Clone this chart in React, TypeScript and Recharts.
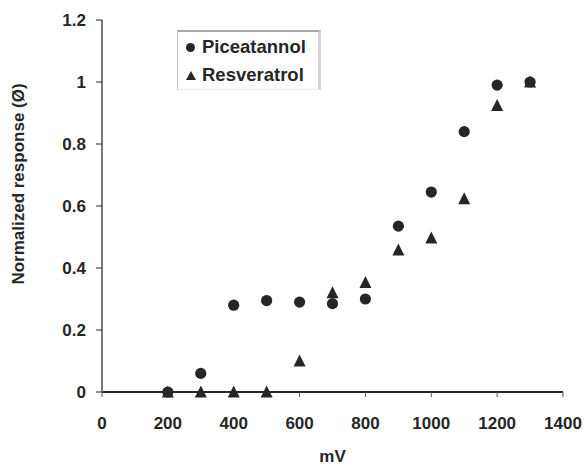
import React from "react";
import {
  ScatterChart,
  Scatter,
  XAxis,
  YAxis,
  Legend,
  ReferenceLine,
} from "recharts";

// voltages (mV) and normalized responses
const voltages = [200, 300, 400, 500, 600, 700, 800, 900, 1000, 1100, 1200, 1300];
const piceatannol = [0, 0.06, 0.28, 0.295, 0.29, 0.285, 0.3, 0.535, 0.645, 0.84, 0.99, 1.0];
const resveratrol = [0, 0, 0, 0, 0.1, 0.32, 0.353, 0.458, 0.497, 0.623, 0.924, 1.0];

const xTicks = [0, 200, 400, 600, 800, 1000, 1200, 1400];
const yTicks = [0, 0.2, 0.4, 0.6, 0.8, 1, 1.2];

const piceData = voltages.map((mv, i) => ({ mv, value: piceatannol[i] }));
const resvData = voltages.map((mv, i) => ({ mv, value: resveratrol[i] }));

const FONT = '"Liberation Sans", Arial, sans-serif';
const INK = "#262626";

const Dot = (props: any) => {
  const { cx, cy } = props;
  if (cx == null || cy == null) return null;
  return <circle cx={cx} cy={cy} r={5.6} fill={INK} />;
};

const Tri = (props: any) => {
  const { cx, cy } = props;
  if (cx == null || cy == null) return null;
  const h = 11;
  const w = 12;
  return (
    <polygon
      points={`${cx},${cy - h / 2 - 1} ${cx - w / 2},${cy + h / 2} ${cx + w / 2},${cy + h / 2}`}
      fill={INK}
    />
  );
};

const tickStyle = { fill: INK, fontSize: 17, fontWeight: 700, fontFamily: FONT };

const LegendBox = () => (
  <div
    style={{
      boxSizing: "border-box",
      width: 144,
      height: 60,
      borderTop: "2px solid #a8a8a8",
      borderLeft: "1px solid #c8c8c8",
      borderRight: "3px solid #d4d4d4",
      borderBottom: "1px solid #ececec",
      padding: "1px 0 0 8px",
      fontFamily: FONT,
      fontWeight: 700,
      fontSize: 18.5,
      color: INK,
      lineHeight: "28px",
      background: "#fff",
      textAlign: "left",
      whiteSpace: "nowrap",
    }}
  >
    <div>
      <span style={{ display: "inline-block", width: 9, height: 9, borderRadius: 5, background: INK, marginRight: 7, verticalAlign: 1 }} />
      Piceatannol
    </div>
    <div>
      <span
        style={{
          display: "inline-block",
          width: 0,
          height: 0,
          borderLeft: "5px solid transparent",
          borderRight: "5px solid transparent",
          borderBottom: "9px solid " + INK,
          marginRight: 6,
          verticalAlign: 1,
        }}
      />
      Resveratrol
    </div>
  </div>
);

const YLabel = (props: any) => {
  const vb = props.viewBox;
  const x = vb.x + 18;
  const y = vb.y + vb.height / 2 - 22;
  return (
    <text
      x={x}
      y={y}
      transform={`rotate(-90 ${x} ${y})`}
      textAnchor="middle"
      dominantBaseline="central"
      style={tickStyle}
    >
      Normalized response (Ø)
    </text>
  );
};

export default function App() {
  return (
    <div style={{ position: "absolute", left: 0, top: 0, background: "#fff" }}>
      <ScatterChart
        width={584}
        height={467}
        margin={{ top: 20, right: 21, bottom: 0, left: 0 }}
      >
        <XAxis
          type="number"
          dataKey="mv"
          domain={[0, 1400]}
          ticks={xTicks}
          height={75}
          tick={tickStyle}
          tickSize={5}
          tickMargin={20}
          axisLine={{ stroke: INK, strokeWidth: 2 }}
          tickLine={{ stroke: "#555" }}
          label={{ value: "mV", position: "insideBottom", offset: 5, style: tickStyle }}
        />
        <YAxis
          type="number"
          dataKey="value"
          domain={[0, 1.2]}
          ticks={yTicks}
          width={102}
          tick={tickStyle}
          tickSize={6}
          tickMargin={10}
          axisLine={{ stroke: "#7a7a7a", strokeWidth: 2 }}
          tickLine={{ stroke: INK }}
          label={<YLabel />}
        />
        <ReferenceLine
          segment={[
            { x: 0, y: 0 },
            { x: 0, y: 0.08 },
          ]}
          stroke={INK}
          strokeWidth={2}
          ifOverflow="visible"
        />
        <Legend
          layout="vertical"
          verticalAlign="middle"
          align="center"
          content={<LegendBox />}
          wrapperStyle={{ left: 177, top: 30, width: 144 }}
        />
        <Scatter name="Resveratrol" data={resvData} shape={<Tri />} isAnimationActive={false} />
        <Scatter name="Piceatannol" data={piceData} shape={<Dot />} isAnimationActive={false} />
      </ScatterChart>
    </div>
  );
}
